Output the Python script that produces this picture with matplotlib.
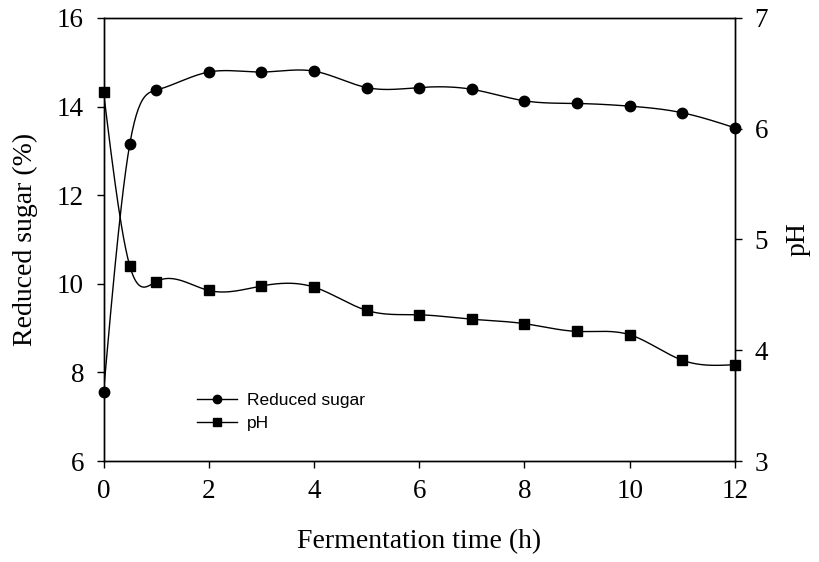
import numpy as np
import matplotlib
matplotlib.use("Agg")
import matplotlib.pyplot as plt
from matplotlib.lines import Line2D

# data
time_h = [0, 0.5, 1, 2, 3, 4, 5, 6, 7, 8, 9, 10, 11, 12]
reduced_sugar = [7.55, 13.16, 14.37, 14.78, 14.78, 14.80, 14.43, 14.43,
                 14.39, 14.13, 14.07, 14.01, 13.86, 13.52]
ph = [6.33, 4.76, 4.62, 4.54, 4.58, 4.57, 4.36, 4.32, 4.28, 4.24,
      4.17, 4.14, 3.91, 3.87]

x_ticks = [0, 2, 4, 6, 8, 10, 12]
left_ticks = [6, 8, 10, 12, 14, 16]
right_ticks = [3, 4, 5, 6, 7]


def natural_spline(x, y, num=600):
    # smooth line through the points (natural cubic spline)
    x = np.asarray(x, float)
    y = np.asarray(y, float)
    n = len(x)
    h = np.diff(x)
    A = np.zeros((n - 2, n - 2))
    rhs = np.zeros(n - 2)
    for i in range(n - 2):
        A[i, i] = 2 * (h[i] + h[i + 1])
        if i + 1 < n - 2:
            A[i, i + 1] = h[i + 1]
            A[i + 1, i] = h[i + 1]
        rhs[i] = 6 * ((y[i + 2] - y[i + 1]) / h[i + 1] - (y[i + 1] - y[i]) / h[i])
    M = np.zeros(n)
    M[1:-1] = np.linalg.solve(A, rhs)
    xs = np.linspace(x[0], x[-1], num)
    k = np.clip(np.searchsorted(x, xs) - 1, 0, n - 2)
    t0 = x[k + 1] - xs
    t1 = xs - x[k]
    hk = h[k]
    ys = (M[k] * t0 ** 3 / (6 * hk) + M[k + 1] * t1 ** 3 / (6 * hk)
          + (y[k] / hk - M[k] * hk / 6) * t0
          + (y[k + 1] / hk - M[k + 1] * hk / 6) * t1)
    return xs, ys


plt.rcParams['font.family'] = ['Liberation Serif', 'DejaVu Serif']
plt.rcParams['font.size'] = 20

fig = plt.figure(figsize=(8.19, 5.62), dpi=100)
ax = fig.add_axes([0.1264, 0.1797, 0.7710, 0.7883])
ax2 = ax.twinx()

xs, ys = natural_spline(time_h, reduced_sugar)
ax.plot(xs, ys, color="black", lw=1.0)
ax.plot(time_h, reduced_sugar, "o", color="black", ms=7.5, clip_on=False, zorder=5)

xs, ys = natural_spline(time_h, ph)
ax2.plot(xs, ys, color="black", lw=1.0)
ax2.plot(time_h, ph, "s", color="black", ms=7.3, clip_on=False, zorder=5)

ax.set_xlim(0, 12)
ax.set_ylim(6, 16)
ax2.set_ylim(3, 7)
ax.set_xticks(x_ticks)
ax.set_yticks(left_ticks)
ax2.set_yticks(right_ticks)

for a in (ax, ax2):
    a.tick_params(direction="out", length=5, width=1, labelsize=19.5)
    for s in a.spines.values():
        s.set_linewidth(1.0)
ax.tick_params(axis="x", pad=8)
ax.tick_params(axis="y", pad=9)
ax2.tick_params(axis="y", pad=9)

ax.set_xlabel("Fermentation time (h)", labelpad=18)
ax.set_ylabel("Reduced sugar (%)", labelpad=14)
ax2.set_ylabel("pH", labelpad=13)

handles = [
    Line2D([], [], color="black", lw=1.0, marker="o", ms=6),
    Line2D([], [], color="black", lw=1.0, marker="s", ms=5.5),
]
ax.legend(handles, ["Reduced sugar", "pH"], loc="upper left",
          bbox_to_anchor=(197 / 819, 1 - 393 / 562), bbox_transform=fig.transFigure,
          frameon=False, borderpad=0, borderaxespad=0, handlelength=2.3,
          handletextpad=0.6, labelspacing=0.45,
          prop={'family': ['Liberation Sans', 'DejaVu Sans'], 'size': 12.5})

plt.savefig("out.png", dpi=100)
plt.close()
